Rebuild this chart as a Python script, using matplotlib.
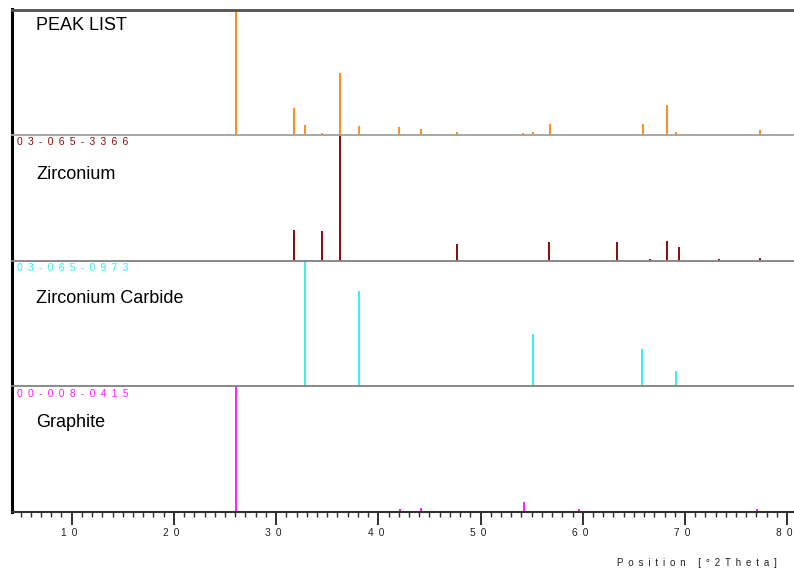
import matplotlib
matplotlib.use("Agg")
import matplotlib.pyplot as plt
import matplotlib.transforms as mtransforms
from matplotlib.ticker import MultipleLocator, FuncFormatter

plt.rcParams['font.family'] = ['Liberation Sans', 'DejaVu Sans']

# ---- data ----
peak_pos = [5.14, 16.13, 17.98, 26.08, 31.72, 32.83, 34.52, 36.28, 38.08, 42.03,
            44.21, 47.70, 54.13, 55.11, 56.80, 63.33, 65.87, 66.59, 68.22, 69.13, 77.32]
peak_int = [1.0, 1.0, 1.0, 100, 21.8, 8.0, 1.6, 49.4, 7.4, 6.6,
            5.0, 2.4, 1.6, 2.4, 8.8, 0.8, 8.5, 0.8, 23.9, 2.4, 4.0]

zr_pos = [31.72, 34.52, 36.28, 47.70, 56.67, 63.36, 66.59, 68.25, 69.39, 73.34, 77.32]
zr_int = [24.5, 24.0, 100, 13.6, 14.7, 15.2, 1.6, 16.0, 11.0, 1.6, 2.4]

zrc_pos = [32.83, 38.08, 55.13, 65.77, 69.13]
zrc_int = [100, 75.8, 42.0, 30.0, 12.0]

gr_pos = [26.08, 42.13, 44.15, 54.25, 59.64, 77.06]
gr_int = [100, 2.4, 3.4, 8.0, 2.4, 2.4]

panel_names = ["PEAK LIST", "Zirconium", "Zirconium Carbide", "Graphite"]
ref_codes = [None, "03-065-3366", "03-065-0973", "00-008-0415"]
colors = ["#FF8C1A", "#8B0A0A", "#33F0F0", "#FF1AFF"]
xlabel = "Position [°2Theta]"
x_range = (4.16, 80.67)

series = [(peak_pos, peak_int), (zr_pos, zr_int), (zrc_pos, zrc_int), (gr_pos, gr_int)]

EN = "\u2002"


def spaced(s):
    return EN.join(list(s))


fig = plt.figure(figsize=(7.94, 5.70), dpi=100)
left, right = 12 / 794, 1.0
top_px, bot_px = 9.5, 512
panel_h = (bot_px - top_px) / 4
name_offsets = [-11.5, -28.3, -27.0, -26.2]
axes = []
for i in range(4):
    y_top = top_px + i * panel_h
    ax = fig.add_axes([left, 1 - (y_top + panel_h) / 570, right - left, panel_h / 570])
    axes.append(ax)
    pos, inten = series[i]
    ax.vlines(pos, 0, inten, colors=colors[i], lw=1.4)
    ax.set_xlim(*x_range)
    ax.set_ylim(0, 100)
    ax.set_yticks([])
    ax.spines['right'].set_visible(False)
    ax.spines['left'].set_linewidth(2.2)
    ax.spines['left'].set_color('black')
    if i == 0:
        ax.spines['top'].set_linewidth(2.0)
        ax.spines['top'].set_color('#505050')
    else:
        ax.spines['top'].set_visible(False)
    if i < 3:
        ax.spines['bottom'].set_linewidth(1.3)
        ax.spines['bottom'].set_color('#A0A0A0' if i == 0 else '#808080')
        ax.tick_params(axis='x', which='both', bottom=False, labelbottom=False)
    else:
        ax.spines['bottom'].set_linewidth(1.5)
        ax.spines['bottom'].set_color('#303030')
    ax.annotate(panel_names[i], xy=(0, 1), xycoords='axes fraction',
                xytext=(17.3, name_offsets[i]), textcoords='offset points',
                ha='left', va='center', fontsize=13, color='black')
    if ref_codes[i]:
        ax.annotate(spaced(ref_codes[i]), xy=(0, 1), xycoords='axes fraction',
                    xytext=(3.6, -5.2), textcoords='offset points',
                    ha='left', va='center', fontsize=7.5, color=colors[i])
    ax.set_zorder(4 - i)
    ax.patch.set_alpha(0)

ax = axes[-1]
ax.xaxis.set_major_locator(MultipleLocator(10))
ax.xaxis.set_minor_locator(MultipleLocator(1))
ax.xaxis.set_major_formatter(FuncFormatter(lambda v, p: spaced(str(int(round(v))))))
ax.tick_params(axis='x', which='major', direction='out', length=9.4, width=1.4,
               color='#303030', labelsize=7.3, pad=2, labelcolor='#202020')
ax.tick_params(axis='x', which='minor', direction='out', length=3.8, width=1.0,
               color='#303030')
shift = mtransforms.ScaledTranslation(-2.5 / 100, 0, fig.dpi_scale_trans)
for lab in ax.get_xticklabels():
    lab.set_transform(lab.get_transform() + shift)

fig.text(776.7 / 794, 1 - 562.7 / 570, spaced(xlabel), ha='right', va='center',
         fontsize=7, color='#202020')

fig.savefig("out.png", dpi=100)
